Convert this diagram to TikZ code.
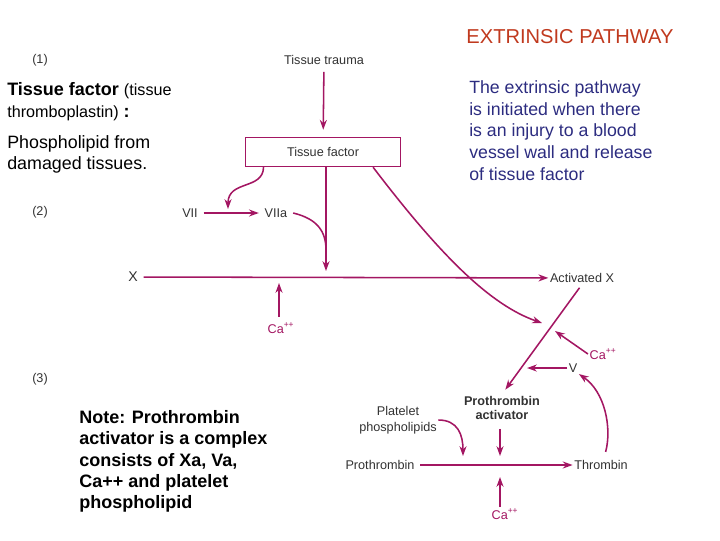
\documentclass[tikz,border=0pt]{standalone}
\usepackage{fontspec}
\setmainfont{Liberation Sans}
\usetikzlibrary{arrows.meta,calc}
\definecolor{clotmag}{RGB}{163,22,98}
\definecolor{titlered}{RGB}{192,57,30}
\definecolor{navytext}{RGB}{44,44,128}
\definecolor{labgray}{RGB}{50,50,50}

\begin{document}
\begin{tikzpicture}[
    x=0.025cm, y=-0.025cm,
    lbl/.style={font=\fontsize{9}{11}\selectfont, text=labgray, inner sep=1pt, align=center},
    calbl/.style={lbl, text=clotmag},
    stage/.style={font=\fontsize{9}{11}\selectfont, text=labgray, inner sep=0pt},
    factorbox/.style={rectangle, draw=clotmag, line width=1pt, minimum width=3.875cm, minimum height=0.725cm, font=\fontsize{9}{11}\selectfont, text=labgray},
    notetext/.style={anchor=north west, inner sep=0pt, align=left},
    arrow/.style={-{Stealth[length=7pt,width=5pt]}, draw=clotmag, line width=1.1pt},
    link/.style={draw=clotmag, line width=1.1pt}
]
\useasboundingbox (0,0) rectangle (720,540);

% side texts
\node[font=\fontsize{14.3}{17}\selectfont, text=titlered, inner sep=0pt] (title) at (570,37) {EXTRINSIC PATHWAY};
\node[notetext, text=navytext, font=\fontsize{12.6}{15.6}\selectfont] (intro) at (469,80)
  {The extrinsic pathway\\is initiated when there\\is an injury to a blood\\vessel wall and release\\of tissue factor};
\node[notetext, font=\fontsize{12.8}{15.6}\selectfont] (tfdef) at (7,82)
  {\textbf{Tissue factor} {\fontsize{11.5}{15.6}\selectfont(tissue}\\{\fontsize{11.5}{15.6}\selectfont thromboplastin)} \textbf{:}};
\node[notetext, font=\fontsize{12.7}{15}\selectfont] (source) at (7,135)
  {Phospholipid from\\damaged tissues.};
\node[notetext, font=\fontsize{12.8}{15.2}\selectfont\bfseries] (note) at (79,410)
  {Note: Prothrombin\\activator is a complex\\consists of Xa, Va,\\Ca++ and platelet\\phospholipid};
\node[stage] (s1) at (40,60) {(1)};
\node[stage] (s2) at (40,212) {(2)};
\node[stage] (s3) at (40,379) {(3)};

% stage 1
\node[lbl] (trauma) at (324,60) {Tissue trauma};
\node[factorbox] (tf) at (323,152) {Tissue factor};

% stage 2
\node[lbl] (vii) at (190,213) {VII};
\node[lbl] (viia) at (276,213) {VIIa};
\node[lbl, font=\fontsize{10}{12}\selectfont] (x) at (133,277) {X};
\node[lbl] (actx) at (582,278) {Activated X};
\node[calbl] (ca1) at (281,328) {Ca\textsuperscript{++}};
\node[calbl] (ca2) at (603,354) {Ca\textsuperscript{++}};
\node[lbl] (v) at (573,368) {V};

% stage 3
\node[lbl, font=\fontsize{9}{10.6}\selectfont\bfseries] (pa) at (502,408) {Prothrombin\\activator};
\node[lbl, font=\fontsize{9}{11.3}\selectfont] (pp) at (398,420) {Platelet\\phospholipids};
\node[lbl] (pro) at (380,465) {Prothrombin};
\node[lbl] (thr) at (601,465) {Thrombin};
\node[calbl] (ca3) at (505,514) {Ca\textsuperscript{++}};

% arrow tips that stop on a line
\coordinate (viitip) at (228,209);
\coordinate (xtip) at (326,271);
\coordinate (ca1tip) at (279,283);
\coordinate (cross) at (542,323);
\coordinate (ca2tip) at (555,331);
\coordinate (vtip) at (527,368);
\coordinate (pptip) at (463,456);
\coordinate (patip) at (500,456);
\coordinate (ca3tip) at (500,477);

\draw[arrow, shorten <=4pt, shorten >=5pt] (trauma) -- (tf);
\draw[arrow] (tf.south -| xtip) -- (xtip);
\draw[arrow] ($(tf.south west)!0.12!(tf.south east)$) .. controls (263,190) and (228,180) .. (viitip);
\draw[arrow, shorten <=3pt, shorten >=3pt] (vii) -- (viia);
\draw[link] ([xshift=3pt]viia.east) .. controls (318,219) and (326,232) .. ($(tf.south -| xtip)!0.8!(xtip)$);
\draw[arrow, shorten <=3pt] (x) -- (actx);
\draw[arrow, shorten <=3pt] (ca1tip |- ca1.north) -- (ca1tip);
\draw[arrow] ($(tf.south west)!0.82!(tf.south east)$) .. controls (440,255) and (490,305) .. (cross);
\draw[arrow, shorten <=3pt, shorten >=4pt] (actx.south) -- (pa.north);
\draw[arrow] (ca2.west) -- (ca2tip);
\draw[arrow] (v.west) -- (vtip);
\draw[arrow, shorten <=5pt] ([xshift=2pt]thr.north) .. controls (612,428) and (605,392) .. (v.south east);
\draw[arrow] (pp.east) .. controls (458,420) and (463,435) .. (pptip);
\draw[arrow, shorten <=5pt] (pa.south -| patip) -- (patip);
\draw[arrow, shorten <=3pt] (pro) -- (thr);
\draw[arrow] (ca3tip |- ca3.north) -- (ca3tip);
\end{tikzpicture}
\end{document}
